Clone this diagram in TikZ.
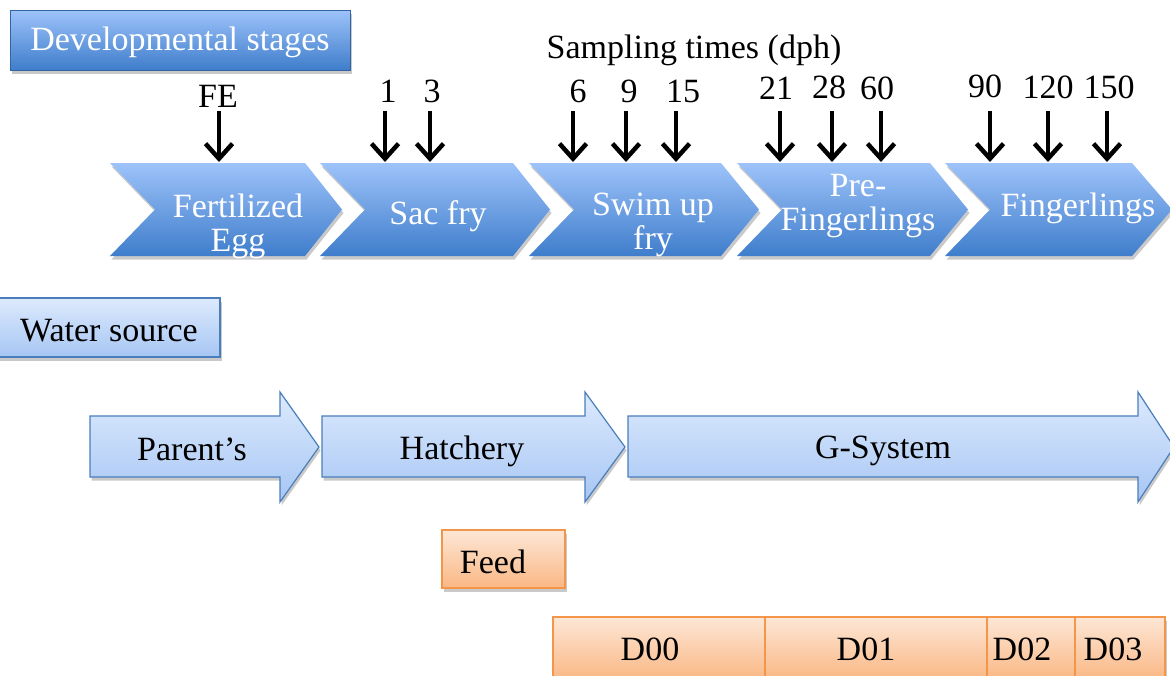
\documentclass[tikz,border=0pt]{standalone}
\usepackage{fontspec}
\setmainfont{Liberation Serif}
\usetikzlibrary{arrows.meta,shadows}
\definecolor{chevtop}{HTML}{9DC3FA}
\definecolor{chevbot}{HTML}{3F7DCB}
\definecolor{ltop}{HTML}{DDEAFD}
\definecolor{lbot}{HTML}{A6C6F4}
\definecolor{lborder}{HTML}{4A7EBB}
\definecolor{otop}{HTML}{FDE7D6}
\definecolor{obot}{HTML}{FAB784}
\definecolor{oborder}{HTML}{F4964A}
\newcommand\fsz{\fontsize{34}{34}\selectfont}
\tikzset{
  shad/.style={drop shadow={opacity=0.3,shadow xshift=1.5pt,shadow yshift=-3.5pt,fill=black!70}},
  chev/.style={top color=chevtop,bottom color=chevbot,draw=none,shad},
  darkbox/.style={top color=chevtop,bottom color=chevbot,draw=chevbot!80!black,line width=0.8pt,shad},
  lightshape/.style={top color=ltop,bottom color=lbot,draw=lborder,line width=1.2pt,shad},
  orangeshape/.style={top color=otop,bottom color=obot,draw=oborder,line width=1.2pt,shad},
  wtxt/.style={text=white,font=\fsz,align=center,inner sep=0pt},
  btxt/.style={text=black,font=\fsz,align=center,inner sep=0pt},
  samp/.style={line width=4.5pt,-{Straight Barb[length=15pt,width=27pt,line width=4.5pt]}}
}
\newcommand\chevshape[3]{%
  \path[chev] (#1,163) -- (#2,163) -- (#3,209.5) -- (#2,256) -- (#1,256) -- ({#1+45},209.5) -- cycle;}
\begin{document}
\begin{tikzpicture}[x=1pt,y=-1pt]
\useasboundingbox (0,0) rectangle (1170,675);
\clip (0,0) rectangle (1170,675);

% Developmental stages box
\path[darkbox] (10,10) rectangle (350,70);
\node[wtxt] (dev) at (180,42) {Developmental stages};

% chevrons
\chevshape{110}{305}{342}
\chevshape{320}{513}{550}
\chevshape{529}{721}{759}
\chevshape{737}{930}{968}
\chevshape{945}{1132}{1172}
\node[wtxt] (c1) at (238,226) {Fertilized\\Egg};
\node[wtxt] (c2) at (438,216) {Sac fry};
\node[wtxt] (c3) at (653,225) {Swim up\\fry};
\node[wtxt] (c4) at (858,206) {Pre-\\Fingerlings};
\node[wtxt] (c5) at (1078,208) {Fingerlings};

% sampling times
\node[btxt] (st) at (694,50) {Sampling times (dph)};
\node[btxt] (lFE) at (218,96) {FE};
\node[btxt] (l1) at (388,91) {1};
\node[btxt] (l3) at (432,91) {3};
\node[btxt] (l6) at (578,91) {6};
\node[btxt] (l9) at (629,91) {9};
\node[btxt] (l15) at (683,91) {15};
\node[btxt] (l21) at (776,88) {21};
\node[btxt] (l28) at (829,87) {28};
\node[btxt] (l60) at (877,88) {60};
\node[btxt] (l90) at (985,86) {90};
\node[btxt] (l120) at (1048,87) {120};
\node[btxt] (l150) at (1109,87) {150};

\foreach \n/\x in {FE/219,1/385,3/430,6/573,9/626,15/676,21/780,28/832,60/881,90/990,120/1048,150/1107}{
  \coordinate (s\n) at (\x,111);
  \coordinate (e\n) at (\x,162);
  \draw[samp] (s\n) -- (e\n);
}

% Water source
\path[lightshape] (-2,298) rectangle (220,357);
\node[btxt] (ws) at (109,331) {Water source};

% big arrows
\path[lightshape] (90,416) -- (280,416) -- (280,392) -- (319,447) -- (280,502) -- (280,477) -- (90,477) -- cycle;
\node[btxt] (par) at (192,449) {Parent’s};
\path[lightshape] (322,416) -- (585,416) -- (585,392) -- (625,447) -- (585,502) -- (585,477) -- (322,477) -- cycle;
\node[btxt] (hat) at (462,451) {Hatchery};
\path[lightshape] (628,416) -- (1138,416) -- (1138,392) -- (1174,447) -- (1138,502) -- (1138,477) -- (628,477) -- cycle;
\node[btxt] (gsys) at (883,451) {G-System};

% Feed
\path[orangeshape] (442,530) rectangle (565,588);
\node[btxt] (feed) at (493,562) {Feed};

% D boxes
\path[orangeshape] (553,617) rectangle (765,680);
\path[orangeshape] (765,617) rectangle (987,680);
\path[orangeshape] (987,617) rectangle (1075,680);
\path[orangeshape] (1075,617) rectangle (1165,680);
\node[btxt] (d0) at (650,649) {D00};
\node[btxt] (d1) at (866,649) {D01};
\node[btxt] (d2) at (1022,649) {D02};
\node[btxt] (d3) at (1113,649) {D03};
\end{tikzpicture}
\end{document}
